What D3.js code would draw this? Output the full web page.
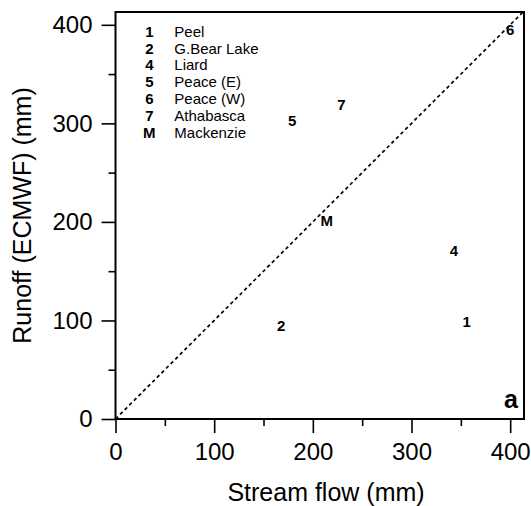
<!DOCTYPE html>
<html>
<head>
<meta charset="utf-8">
<script src="https://cdn.jsdelivr.net/npm/d3@7"></script>
<style>
  html, body { margin: 0; padding: 0; background: #fff; }
  svg { display: block; }
  text { font-family: "Liberation Sans", Arial, Helvetica, sans-serif; fill: #000; }
</style>
</head>
<body>
<svg id="chart" width="531" height="506"></svg>
<script>
// ---- data ----
const pointLabels = ["1", "2", "4", "5", "6", "7", "M"];
const basinNames = ["Peel", "G.Bear Lake", "Liard", "Peace (E)", "Peace (W)", "Athabasca", "Mackenzie"];
const streamFlow = [356, 168, 343, 179, 400, 229, 214];
const runoffECMWF = [99, 95, 171, 303, 395, 319, 201];
const majorTicks = [0, 100, 200, 300, 400];
const minorTicks = [50, 150, 250, 350];
const xTitle = "Stream flow (mm)";
const yTitle = "Runoff (ECMWF) (mm)";
const panelLabel = "a";

// ---- layout ----
const svg = d3.select("#chart");
const mLeft = 115.5, mRight = 524, mTop = 12, mBottom = 419;

const x = d3.scaleLinear().domain([0, 414]).range([mLeft, mRight]);
const y = d3.scaleLinear().domain([0, 413]).range([mBottom, mTop]);

// minor ticks
svg.append("g").attr("transform", `translate(0,${mBottom})`)
  .call(d3.axisBottom(x).tickValues(minorTicks).tickSize(7).tickFormat(""))
  .call(g => g.select(".domain").remove())
  .call(g => g.selectAll("line").attr("stroke", "#000").attr("stroke-width", 1.6));
svg.append("g").attr("transform", `translate(${mLeft},0)`)
  .call(d3.axisLeft(y).tickValues(minorTicks).tickSize(7).tickFormat(""))
  .call(g => g.select(".domain").remove())
  .call(g => g.selectAll("line").attr("stroke", "#000").attr("stroke-width", 1.6));

// major ticks
svg.append("g").attr("transform", `translate(0,${mBottom})`)
  .call(d3.axisBottom(x).tickValues(majorTicks).tickSize(14).tickPadding(10).tickFormat(d3.format("d")))
  .call(g => g.select(".domain").remove())
  .call(g => g.selectAll("line").attr("stroke", "#000").attr("stroke-width", 1.6))
  .call(g => g.selectAll("text").attr("font-size", 24).attr("font-family", "Liberation Sans, Arial, sans-serif").attr("fill", "#000"));

svg.append("g").attr("transform", `translate(${mLeft},0)`)
  .call(d3.axisLeft(y).tickValues(majorTicks).tickSize(14).tickPadding(9).tickFormat(d3.format("d")))
  .call(g => g.select(".domain").remove())
  .call(g => g.selectAll("line").attr("stroke", "#000").attr("stroke-width", 1.6))
  .call(g => g.selectAll("text").attr("font-size", 24).attr("font-family", "Liberation Sans, Arial, sans-serif").attr("fill", "#000"));

// 1:1 line
svg.append("line")
  .attr("x1", x(0)).attr("y1", y(0))
  .attr("x2", x(413)).attr("y2", y(413))
  .attr("stroke", "#000").attr("stroke-width", 1.7)
  .attr("stroke-dasharray", "3.5,3");

// frame
svg.append("rect")
  .attr("x", mLeft).attr("y", mTop)
  .attr("width", mRight - mLeft).attr("height", mBottom - mTop)
  .attr("fill", "none").attr("stroke", "#000").attr("stroke-width", 2);

// points as labels
svg.append("g").selectAll("text")
  .data(pointLabels)
  .join("text")
  .attr("x", (d, i) => x(streamFlow[i]))
  .attr("y", (d, i) => y(runoffECMWF[i]) + 5.5)
  .attr("text-anchor", "middle")
  .attr("font-size", 15)
  .attr("font-weight", "bold")
  .text(d => d);

// legend
const legend = svg.append("g");
pointLabels.forEach((lab, i) => {
  const by = 36.7 + i * 16.8;
  legend.append("text").attr("x", 149.3).attr("y", by)
    .attr("text-anchor", "middle").attr("font-size", 15).attr("font-weight", "bold").text(lab);
  legend.append("text").attr("x", 174.3).attr("y", by)
    .attr("font-size", 15).text(basinNames[i]);
});

// panel label
svg.append("text").attr("x", 518).attr("y", 408)
  .attr("text-anchor", "end").attr("font-size", 25).attr("font-weight", "bold").text(panelLabel);

// axis titles
svg.append("text").attr("x", 326).attr("y", 501)
  .attr("text-anchor", "middle").attr("font-size", 25).text(xTitle);
svg.append("text")
  .attr("transform", `translate(31,${(mTop + mBottom) / 2}) rotate(-90)`)
  .attr("text-anchor", "middle").attr("font-size", 25).text(yTitle);
</script>
</body>
</html>
